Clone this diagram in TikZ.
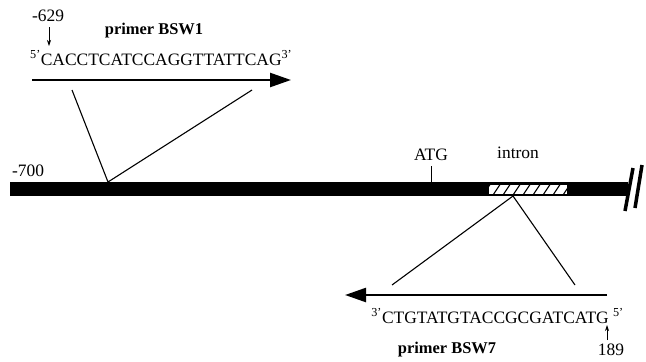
\documentclass[tikz,border=0pt]{standalone}
\usepackage{fontspec}
\setmainfont{Liberation Serif}
\usetikzlibrary{arrows.meta}
\begin{document}
\begin{tikzpicture}[x=1bp,y=-1bp,
  lab/.style={inner sep=0pt, font=\fontsize{17.5}{19}\selectfont},
  bold/.style={inner sep=0pt, font=\fontsize{16.5}{19}\selectfont\bfseries},
  seqtxt/.style={inner sep=0pt, font=\fontsize{17.5}{19}\selectfont},
  primerarrow/.style={line width=2.4bp, -{Triangle[length=21bp,width=14bp]}},
  tickarrow/.style={line width=0.7bp, -{Stealth[length=6bp,width=4bp]}},
  guide/.style={line width=1.1bp}]
\useasboundingbox (0,0) rectangle (646,361);
% main bar
\fill (10,182) rectangle (628,196);
% hatched intron
\begin{scope}
\clip (488,184) rectangle (567,194);
\fill[white] (488,184) rectangle (567,194);
\foreach \i in {0,...,9} {\draw[line width=1.1bp] (483+\i*10,195) -- (491+\i*10,183);}
\end{scope}
\draw[line width=0.8bp] (488,184) rectangle (567,194);
% break marks
\draw[line width=3.5bp] (625,211) -- (633,168);
\draw[line width=3.5bp] (635,208) -- (642,165);
% labels on the bar
\node[lab] (m700) at (28,171) {-700};
\node[lab] (atg) at (431,155) {ATG};
\coordinate (atgtop) at (431,166);
\coordinate (atgbot) at (431,182);
\draw[line width=1bp] (atgtop) -- (atgbot);
\node[lab] (intron) at (518,153) {intron};
% top primer
\node[lab] (m629) at (48,16) {-629};
\coordinate (d1s) at (49,27);
\coordinate (d1e) at (49,46);
\draw[tickarrow] (d1s) -- (d1e);
\node[bold] (p1) at (154,31) {primer BSW1};
\node[seqtxt, anchor=west] (s1) at (30,58) {\textsuperscript{5'}CACCTCATCCAGGTTATTCAG\textsuperscript{3'}};
\coordinate (a1s) at (32,80);
\coordinate (a1e) at (291,80);
\draw[primerarrow] (a1s) -- (a1e);
\coordinate (c1) at (108,182);
\coordinate (l1) at (72,90);
\coordinate (r1) at (252,90);
\draw[guide] (l1) -- (c1) -- (r1);
% bottom primer
\coordinate (c2) at (513,196);
\coordinate (l2) at (392,285);
\coordinate (r2) at (575,285);
\draw[guide] (l2) -- (c2) -- (r2);
\coordinate (a2s) at (607,295);
\coordinate (a2e) at (345,295);
\draw[primerarrow] (a2s) -- (a2e);
\node[seqtxt, anchor=east] (s2) at (624,316) {\textsuperscript{3'}CTGTATGTACCGCGATCATG \textsuperscript{5'}};
\coordinate (u2s) at (607,340);
\coordinate (u2e) at (607,325);
\draw[tickarrow] (u2s) -- (u2e);
\node[lab] (n189) at (611,350) {189};
\node[bold] (p2) at (447,350) {primer BSW7};
\end{tikzpicture}
\end{document}
